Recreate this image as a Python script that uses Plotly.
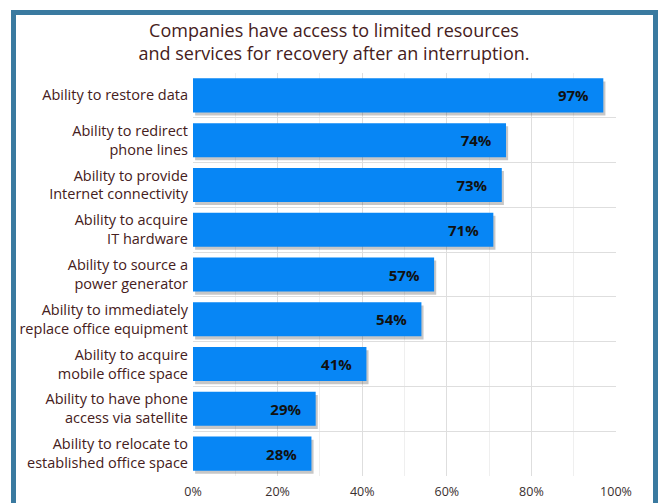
import plotly.graph_objects as go

# Survey results: share of companies with each recovery capability
categories = [
    "Ability to restore data",
    "Ability to redirect<br>phone lines",
    "Ability to provide<br>Internet connectivity",
    "Ability to acquire<br>IT hardware",
    "Ability to source a<br>power generator",
    "Ability to immediately<br>replace office equipment",
    "Ability to acquire<br>mobile office space",
    "Ability to have phone<br>access via satellite",
    "Ability to relocate to<br>established office space",
]
values = [97, 74, 73, 71, 57, 54, 41, 29, 28]
x_tick_values = [0, 20, 40, 60, 80, 100]
x_tick_labels = ["0%", "20%", "40%", "60%", "80%", "100%"]

title_text = ("Companies have access to limited resources<br>"
              "and services for recovery after an interruption.")

FONT = "Open Sans"
BROWN = "#452020"
BAR_BLUE = "#0786f5"
FRAME_BLUE = "#3a7aa0"

W, H = 660, 503
ML, MR, MT, MB = 193, 44, 73, 27
PW, PH = W - ML - MR, H - MT - MB

BAR_W = 0.76

fig = go.Figure()

# soft drop shadow behind each bar
fig.add_trace(go.Bar(
    x=values, y=categories, orientation="h",
    base=0.5, width=BAR_W, offset=-BAR_W / 2 + 0.07,
    marker=dict(color="rgba(0,0,0,0.22)", line=dict(width=0)),
    hoverinfo="skip", showlegend=False,
))

# main bars with value labels
fig.add_trace(go.Bar(
    x=values, y=categories, orientation="h",
    width=BAR_W, offset=-BAR_W / 2,
    marker=dict(color=BAR_BLUE, line=dict(width=0)),
    texttemplate="%{x}%\u00a0\u00a0\u00a0",
    textposition="inside", insidetextanchor="end",
    textfont=dict(family=FONT, size=15, color="#111111", weight="bold"),
    showlegend=False,
))

def px_to_paper_x(px):
    return (px - ML) / PW

def px_to_paper_y(py):
    return 1 - (py - MT) / PH

# blue frame around the whole graphic, open at the bottom
fig.add_shape(
    type="path", xref="paper", yref="paper",
    path=(f"M {px_to_paper_x(13.5)},{px_to_paper_y(540)} "
          f"L {px_to_paper_x(13.5)},{px_to_paper_y(12.5)} "
          f"L {px_to_paper_x(655.5)},{px_to_paper_y(12.5)} "
          f"L {px_to_paper_x(655.5)},{px_to_paper_y(540)}"),
    line=dict(color=FRAME_BLUE, width=5),
    layer="above",
)

fig.update_layout(
    width=W, height=H,
    margin=dict(l=ML, r=MR, t=MT, b=MB, autoexpand=False),
    paper_bgcolor="white", plot_bgcolor="white",
    barmode="overlay",
    title=dict(
        text=title_text, xref="container", yref="container",
        x=334 / W, y=1 - 37 / H, xanchor="center", yanchor="middle",
        font=dict(family=FONT, size=18, color=BROWN),
    ),
    xaxis=dict(
        range=[0, 100],
        tickvals=x_tick_values, ticktext=x_tick_labels,
        showgrid=True, gridcolor="#dedede", gridwidth=1,
        minor=dict(dtick=10, showgrid=True, gridcolor="#efefef", gridwidth=1),
        zeroline=False, showline=False, ticks="",
        tickfont=dict(family=FONT, size=12.5, color="#3a3030"),
        ticklabelstandoff=6,
        fixedrange=True,
    ),
    yaxis=dict(
        type="category", autorange="reversed",
        tickson="boundaries",
        showgrid=True, gridcolor="#dedede", gridwidth=1,
        showline=False, ticks="",
        tickfont=dict(family=FONT, size=14.5, color=BROWN),
        ticklabelstandoff=4,
        fixedrange=True,
    ),
)

fig.write_html("out.html")
